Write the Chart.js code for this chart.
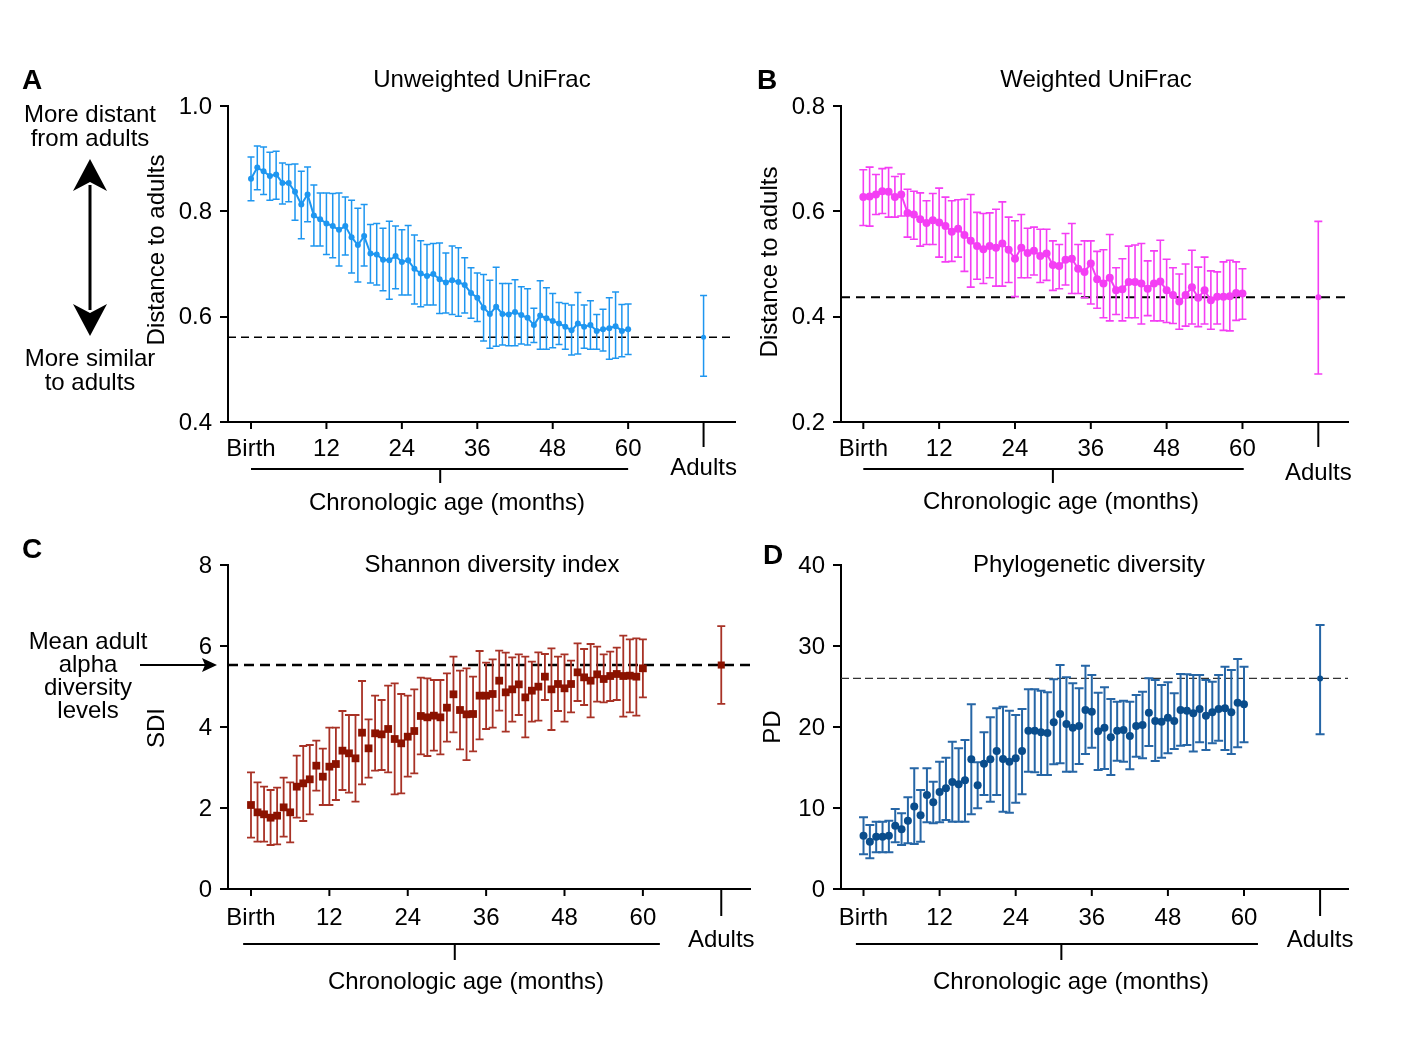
<!DOCTYPE html>
<html><head><meta charset="utf-8">
<script src="https://cdn.jsdelivr.net/npm/chart.js@4.4.0/dist/chart.umd.min.js"></script>
<style>
html,body{margin:0;padding:0;background:#fff;}
#wrap{position:relative;width:1409px;height:1040px;overflow:hidden;background:#fff;}
canvas{position:absolute;left:0;top:0;}
.t{position:absolute;font-family:"Liberation Sans",Arial,sans-serif;color:#000;white-space:nowrap;transform:translate(-50%,-50%);line-height:1;font-size:24px;text-align:center;}
.L{font-weight:bold;font-size:28px;}
svg{position:absolute;left:0;top:0;}
</style></head><body>
<div id="wrap">
<canvas id="cA" width="1409" height="1040"></canvas>
<canvas id="cB" width="1409" height="1040"></canvas>
<canvas id="cC" width="1409" height="1040"></canvas>
<canvas id="cD" width="1409" height="1040"></canvas>
<svg width="1409" height="1040">
  <line x1="90" y1="185" x2="90" y2="310" stroke="#000" stroke-width="3"/>
  <path d="M90,159 L107,191 L90,182 L73,191 Z" fill="#000"/>
  <path d="M90,336 L107,304 L90,313 L73,304 Z" fill="#000"/>
  <line x1="140" y1="665" x2="206" y2="665" stroke="#000" stroke-width="2"/>
  <path d="M217,665 L202,658 L205,665 L202,672 Z" fill="#000"/>
</svg>
<div class="t L" style="left:32px;top:80px">A</div>
<div class="t L" style="left:767px;top:80px">B</div>
<div class="t L" style="left:32px;top:549px">C</div>
<div class="t L" style="left:773px;top:555px">D</div>
<div class="t" style="left:90px;top:114px">More distant</div>
<div class="t" style="left:90px;top:138px">from adults</div>
<div class="t" style="left:90px;top:358px">More similar</div>
<div class="t" style="left:90px;top:382px">to adults</div>
<div class="t" style="left:88px;top:641px">Mean adult</div>
<div class="t" style="left:88px;top:664px">alpha</div>
<div class="t" style="left:88px;top:687px">diversity</div>
<div class="t" style="left:88px;top:710px">levels</div>
</div>
<script>
const months = [0,1,2,3,4,5,6,7,8,9,10,11,12,13,14,15,16,17,18,19,20,21,22,23,24,25,26,27,28,29,30,31,32,33,34,35,36,37,38,39,40,41,42,43,44,45,46,47,48,49,50,51,52,53,54,55,56,57,58,59,60];
const adultX = [72];
const xTickValues = [0,12,24,36,48,60];
const xTickLabels = ['Birth','12','24','36','48','60'];
const adultLabel = 'Adults';

// A: Unweighted UniFrac
const unwMean = [0.862,0.883,0.876,0.867,0.870,0.854,0.854,0.837,0.813,0.832,
 0.792,0.785,0.777,0.772,0.765,0.772,0.751,0.736,0.753,0.720,
 0.718,0.708,0.707,0.715,0.704,0.707,0.691,0.682,0.677,0.681,
 0.671,0.665,0.669,0.666,0.660,0.645,0.636,0.617,0.605,0.619,
 0.605,0.604,0.609,0.603,0.598,0.584,0.602,0.597,0.592,0.587,
 0.581,0.574,0.587,0.581,0.584,0.573,0.576,0.578,0.582,0.573,0.576];
const unwHigh = [0.903,0.924,0.922,0.912,0.914,0.892,0.889,0.890,0.876,0.884,
 0.850,0.835,0.835,0.834,0.835,0.827,0.821,0.806,0.813,0.775,
 0.777,0.768,0.781,0.772,0.765,0.773,0.755,0.744,0.737,0.739,
 0.740,0.721,0.734,0.731,0.712,0.693,0.683,0.680,0.669,0.694,
 0.663,0.663,0.670,0.657,0.653,0.616,0.668,0.655,0.644,0.627,
 0.625,0.622,0.646,0.622,0.630,0.604,0.614,0.636,0.647,0.623,0.624];
const unwLow = [0.820,0.841,0.832,0.821,0.823,0.814,0.818,0.783,0.748,0.780,
 0.734,0.734,0.718,0.712,0.696,0.717,0.683,0.666,0.696,0.664,
 0.660,0.649,0.633,0.653,0.641,0.641,0.624,0.619,0.622,0.622,
 0.606,0.607,0.604,0.601,0.607,0.597,0.591,0.554,0.540,0.544,
 0.546,0.545,0.545,0.548,0.546,0.551,0.538,0.538,0.541,0.547,
 0.538,0.527,0.529,0.540,0.538,0.538,0.535,0.519,0.521,0.524,0.528];
const unwAdult = [0.561], unwAdultLow = [0.487], unwAdultHigh = [0.640];

// B: Weighted UniFrac
const wMean = [0.627,0.628,0.632,0.638,0.637,0.627,0.632,0.597,0.594,0.585,
 0.578,0.583,0.579,0.572,0.561,0.567,0.555,0.544,0.534,0.528,
 0.534,0.531,0.539,0.527,0.510,0.531,0.521,0.525,0.515,0.520,
 0.498,0.496,0.508,0.510,0.491,0.485,0.501,0.471,0.463,0.474,
 0.450,0.452,0.466,0.466,0.463,0.453,0.463,0.467,0.450,0.441,
 0.429,0.441,0.456,0.436,0.450,0.431,0.438,0.438,0.439,0.445,0.444];
const wHigh = [0.679,0.684,0.670,0.681,0.683,0.666,0.671,0.642,0.638,0.635,
 0.620,0.634,0.644,0.627,0.620,0.622,0.623,0.632,0.598,0.596,
 0.597,0.604,0.618,0.589,0.582,0.594,0.568,0.570,0.566,0.566,
 0.544,0.537,0.558,0.577,0.537,0.544,0.544,0.524,0.527,0.556,
 0.493,0.510,0.534,0.536,0.539,0.506,0.525,0.545,0.509,0.493,
 0.481,0.500,0.526,0.494,0.513,0.487,0.485,0.504,0.507,0.504,0.491];
const wLow = [0.573,0.572,0.594,0.596,0.589,0.589,0.591,0.551,0.547,0.534,
 0.537,0.537,0.513,0.504,0.505,0.513,0.486,0.456,0.471,0.463,
 0.474,0.458,0.458,0.465,0.438,0.474,0.474,0.479,0.465,0.469,
 0.450,0.453,0.460,0.444,0.444,0.436,0.424,0.416,0.398,0.392,
 0.404,0.392,0.398,0.398,0.386,0.402,0.392,0.392,0.389,0.387,
 0.376,0.382,0.386,0.381,0.386,0.376,0.386,0.374,0.373,0.393,0.395];
const wAdult = [0.437], wAdultLow = [0.291], wAdultHigh = [0.581];

// C: Shannon diversity index
const sdiMean = [2.074,1.893,1.844,1.761,1.811,2.016,1.893,2.527,2.609,2.708,
 3.045,2.774,3.021,3.086,3.416,3.350,3.226,3.860,3.473,3.844,
 3.819,3.951,3.704,3.597,3.761,3.901,4.272,4.239,4.280,4.239,
 4.477,4.807,4.420,4.313,4.321,4.774,4.774,4.815,5.144,4.856,
 4.930,5.053,4.732,4.897,4.996,5.243,4.930,5.062,4.955,5.062,
 5.350,5.226,5.144,5.300,5.185,5.259,5.309,5.259,5.268,5.243,5.449];
const sdiHigh = [2.881,2.634,2.527,2.444,2.502,2.749,2.634,3.292,3.531,3.556,
 3.663,3.465,3.984,3.984,4.395,4.296,4.296,5.136,4.189,4.774,
 4.667,5.021,5.078,4.815,4.774,4.930,5.218,5.202,5.160,5.160,
 5.325,5.737,5.391,5.449,5.243,5.877,5.588,5.671,5.885,5.835,
 5.720,5.794,5.737,5.613,5.844,5.802,5.942,5.737,5.794,5.638,
 6.066,5.926,6.049,5.984,5.794,5.860,5.959,6.255,6.165,6.189,6.165];
const sdiLow = [1.267,1.169,1.169,1.086,1.103,1.292,1.152,1.761,1.679,1.844,
 2.428,2.074,2.074,2.198,2.444,2.379,2.156,2.584,2.749,2.922,
 2.938,2.881,2.337,2.362,2.774,2.856,3.325,3.284,3.416,3.325,
 3.638,3.868,3.450,3.180,3.400,3.695,3.951,3.984,4.403,3.885,
 4.132,4.296,3.745,4.132,4.156,4.667,3.926,4.395,4.132,4.362,
 4.642,4.543,4.239,4.626,4.609,4.642,4.667,4.255,4.362,4.280,4.732];
const sdiAdult = [5.53], sdiAdultLow = [4.57], sdiAdultHigh = [6.49];

// D: Phylogenetic diversity
const pdMean = [6.58,5.84,6.46,6.46,6.58,7.82,7.37,8.44,10.17,9.10,
 11.61,10.70,11.98,12.43,13.21,12.92,13.42,16.01,12.80,15.47,
 16.01,17.04,16.05,15.72,16.13,17.04,19.55,19.55,19.34,19.26,
 20.58,21.61,20.37,19.92,20.12,22.10,21.89,19.47,19.92,18.72,
 19.55,19.63,18.89,20.12,20.25,21.77,20.74,20.66,21.15,20.74,
 22.10,22.02,21.69,22.22,21.40,21.81,22.22,22.31,21.81,23.00,22.80];
const pdHigh = [8.85,7.90,8.31,8.31,8.44,9.88,9.34,11.32,14.90,12.22,
 14.90,13.25,15.72,16.21,18.19,17.37,18.40,22.80,15.64,19.34,
 21.19,22.31,22.51,22.02,21.48,22.22,24.65,24.65,24.49,24.28,
 25.89,27.65,26.13,25.39,24.77,27.57,26.42,24.24,24.90,23.46,
 23.13,23.25,23.13,23.95,24.36,26.01,25.80,25.19,25.51,24.16,
 26.54,26.50,26.42,26.42,25.80,25.60,26.42,27.45,27.04,28.40,27.45];
const pdLow = [4.28,3.79,4.53,4.53,4.53,5.76,5.43,5.64,5.56,5.84,
 8.23,8.11,8.23,8.52,8.31,8.31,8.31,9.22,9.96,11.61,
 10.78,11.61,9.55,9.42,10.66,11.69,14.49,14.40,14.07,14.07,
 15.39,15.51,14.49,14.49,15.43,16.67,17.45,14.69,14.82,14.07,
 15.84,15.72,14.77,16.34,16.13,17.65,15.80,16.21,16.75,17.28,
 17.70,17.78,16.96,18.11,17.16,17.98,18.31,17.16,16.67,17.49,18.11];
const pdAdult = [26.0], pdAdultLow = [19.1], pdAdultHigh = [32.6];

const FONT = '"Liberation Sans", Arial, sans-serif';

function txt(ctx, s, x, y, align, rot, size) {
  ctx.save();
  ctx.font = (size || 24) + 'px ' + FONT;
  ctx.fillStyle = '#000';
  ctx.textAlign = align || 'center';
  ctx.textBaseline = 'middle';
  ctx.translate(x, y + (rot ? 0 : 1));
  if (rot) ctx.rotate(-Math.PI / 2);
  ctx.fillText(s, 0, 0);
  ctx.restore();
}

const panelPlugin = {
  id: 'panel',
  beforeDatasetsDraw(chart, args, o) {
    const ctx = chart.ctx, a = chart.chartArea, y = chart.scales.y;
    ctx.save();
    ctx.setLineDash(o.dash);
    ctx.lineWidth = o.dashWidth;
    ctx.strokeStyle = o.dashColor;
    const ry = y.getPixelForValue(o.ref);
    ctx.beginPath(); ctx.moveTo(a.left, ry); ctx.lineTo(a.right, ry); ctx.stroke();
    ctx.restore();
    chart.data.datasets.forEach((ds, di) => {
      const meta = chart.getDatasetMeta(di);
      ctx.save();
      ctx.strokeStyle = ds.errColor;
      ctx.lineWidth = o.errWidth;
      meta.data.forEach((pt, i) => {
        const px = pt.x;
        const t = y.getPixelForValue(ds.errHigh[i]);
        const b = y.getPixelForValue(ds.errLow[i]);
        ctx.beginPath();
        ctx.moveTo(px, t); ctx.lineTo(px, b);
        ctx.moveTo(px - o.cap, t); ctx.lineTo(px + o.cap, t);
        ctx.moveTo(px - o.cap, b); ctx.lineTo(px + o.cap, b);
        ctx.stroke();
      });
      ctx.restore();
    });
  },
  afterDraw(chart, args, o) {
    const ctx = chart.ctx, a = chart.chartArea, x = chart.scales.x, y = chart.scales.y;
    const b = a.bottom;
    ctx.save();
    ctx.strokeStyle = '#000';
    ctx.lineWidth = 2;
    xTickValues.forEach((v, i) => {
      const px = x.getPixelForValue(v);
      ctx.beginPath(); ctx.moveTo(px, b); ctx.lineTo(px, b + 7); ctx.stroke();
      txt(ctx, xTickLabels[i], px, b + o.labelDy, 'center');
    });
    const ax = x.getPixelForValue(adultX[0]);
    ctx.beginPath(); ctx.moveTo(ax, b); ctx.lineTo(ax, b + o.adultTick); ctx.stroke();
    txt(ctx, adultLabel, ax, b + o.adultDy, 'center');
    const bx1 = x.getPixelForValue(o.bracket[0]), bx2 = x.getPixelForValue(o.bracket[1]);
    const bm = x.getPixelForValue(o.bracketMid);
    ctx.beginPath();
    ctx.moveTo(bx1, b + o.bracketDy); ctx.lineTo(bx2, b + o.bracketDy);
    ctx.moveTo(bm, b + o.bracketDy); ctx.lineTo(bm, b + o.bracketTick);
    ctx.stroke();
    ctx.restore();
    txt(ctx, 'Chronologic age (months)', o.xTitleX, b + o.xTitleDy, 'center');
    y.ticks.forEach(t => {
      const py = y.getPixelForValue(t.value);
      txt(ctx, o.decimals ? t.value.toFixed(o.decimals) : String(Math.round(t.value)), a.left - 16, py, 'right');
    });
    txt(ctx, o.yTitle, o.yTitleX, o.yTitleY, 'center', true);
    txt(ctx, o.title, o.titleX, o.titleY, 'center');
  }
};

function makeChart(id, P) {
  const mainDs = {
    data: months.map((m, i) => ({ x: m, y: P.mean[i] })),
    errLow: P.low, errHigh: P.high, errColor: P.errColor,
    showLine: P.showLine, borderColor: P.color, borderWidth: P.lineWidth,
    backgroundColor: P.color, pointBackgroundColor: P.color, pointBorderColor: P.color,
    pointStyle: P.pointStyle, pointRadius: P.pointRadius, pointBorderWidth: 0, tension: 0
  };
  const adultDs = {
    data: adultX.map((m, i) => ({ x: m, y: P.adult[i] })),
    errLow: P.adultLow, errHigh: P.adultHigh, errColor: P.errColor,
    showLine: false, borderColor: P.color, backgroundColor: P.color,
    pointBackgroundColor: P.color, pointBorderColor: P.color,
    pointStyle: P.pointStyle, pointRadius: P.adultRadius, pointBorderWidth: 0
  };
  return new Chart(document.getElementById(id), {
    type: 'line',
    data: { datasets: [mainDs, adultDs] },
    options: {
      responsive: false, animation: false, events: [],
      layout: { padding: { left: P.area[0], top: P.area[1], right: 1409 - P.area[2], bottom: 1040 - P.area[3] } },
      plugins: { legend: { display: false }, tooltip: { enabled: false }, panel: P.opts },
      scales: {
        x: {
          type: 'linear', min: P.xmin, max: P.xmax,
          ticks: { display: false },
          grid: { display: true, drawOnChartArea: false, drawTicks: false },
          border: { display: true, color: '#000', width: 2 },
          afterFit: s => { s.height = 0; s.paddingLeft = 0; s.paddingRight = 0; }
        },
        y: {
          type: 'linear', min: P.ymin, max: P.ymax,
          ticks: { display: false, stepSize: P.step },
          grid: { display: true, drawOnChartArea: false, drawTicks: true, tickLength: 8, color: '#000', lineWidth: 2 },
          border: { display: true, color: '#000', width: 2 },
          afterFit: s => { s.width = 0; s.paddingTop = 0; s.paddingBottom = 0; }
        }
      }
    },
    plugins: [panelPlugin]
  });
}

makeChart('cA', {
  mean: unwMean, low: unwLow, high: unwHigh, adult: unwAdult, adultLow: unwAdultLow, adultHigh: unwAdultHigh,
  color: '#1e96f0', errColor: '#1e96f0', showLine: true, lineWidth: 2, pointStyle: 'circle', pointRadius: 3, adultRadius: 2.5,
  area: [228, 106, 735, 422], xmin: -3.66, xmax: 77.0, ymin: 0.4, ymax: 1.0, step: 0.2,
  opts: { ref: 0.561, dash: [8, 5], dashWidth: 1.6, dashColor: '#000', errWidth: 1.5, cap: 3.5,
    labelDy: 26, adultTick: 25, adultDy: 45, bracket: [0, 60], bracketMid: 30.1, bracketDy: 47, bracketTick: 61,
    xTitleX: 447, xTitleDy: 80, decimals: 1, yTitle: 'Distance to adults', yTitleX: 157, yTitleY: 250,
    title: 'Unweighted UniFrac', titleX: 482, titleY: 79 }
});
makeChart('cB', {
  mean: wMean, low: wLow, high: wHigh, adult: wAdult, adultLow: wAdultLow, adultHigh: wAdultHigh,
  color: '#f43ef4', errColor: '#f43ef4', showLine: true, lineWidth: 2, pointStyle: 'circle', pointRadius: 4, adultRadius: 3,
  area: [841, 106, 1348, 422], xmin: -3.53, xmax: 76.7, ymin: 0.2, ymax: 0.8, step: 0.2,
  opts: { ref: 0.437, dash: [9, 6], dashWidth: 2, dashColor: '#000', errWidth: 1.6, cap: 4,
    labelDy: 26, adultTick: 25, adultDy: 50, bracket: [0, 60.2], bracketMid: 30.0, bracketDy: 47, bracketTick: 61,
    xTitleX: 1061, xTitleDy: 79, decimals: 1, yTitle: 'Distance to adults', yTitleX: 770, yTitleY: 262,
    title: 'Weighted UniFrac', titleX: 1096, titleY: 79 }
});
makeChart('cC', {
  mean: sdiMean, low: sdiLow, high: sdiHigh, adult: sdiAdult, adultLow: sdiAdultLow, adultHigh: sdiAdultHigh,
  color: '#8b1200', errColor: '#a83226', showLine: false, lineWidth: 0, pointStyle: 'rect', pointRadius: 5.5, adultRadius: 5,
  area: [228, 565, 750, 889], xmin: -3.52, xmax: 76.4, ymin: 0, ymax: 8, step: 2,
  opts: { ref: 5.53, dash: [10, 6], dashWidth: 2.5, dashColor: '#000', errWidth: 1.8, cap: 4,
    labelDy: 28, adultTick: 27, adultDy: 50, bracket: [-1.2, 62.6], bracketMid: 31.2, bracketDy: 55, bracketTick: 71,
    xTitleX: 466, xTitleDy: 92, decimals: 0, yTitle: 'SDI', yTitleX: 157, yTitleY: 728,
    title: 'Shannon diversity index', titleX: 492, titleY: 564 }
});
makeChart('cD', {
  mean: pdMean, low: pdLow, high: pdHigh, adult: pdAdult, adultLow: pdAdultLow, adultHigh: pdAdultHigh,
  color: '#0a4d8c', errColor: '#2666a6', showLine: false, lineWidth: 0, pointStyle: 'circle', pointRadius: 4, adultRadius: 3,
  area: [841, 565, 1348, 889], xmin: -3.55, xmax: 76.4, ymin: 0, ymax: 40, step: 10,
  opts: { ref: 26.0, dash: [8, 4], dashWidth: 1.2, dashColor: '#333', errWidth: 2, cap: 4.5,
    labelDy: 28, adultTick: 27, adultDy: 50, bracket: [-1.2, 62.2], bracketMid: 31.2, bracketDy: 55, bracketTick: 71,
    xTitleX: 1071, xTitleDy: 92, decimals: 0, yTitle: 'PD', yTitleX: 773, yTitleY: 727,
    title: 'Phylogenetic diversity', titleX: 1089, titleY: 564 }
});
</script>
</body></html>
